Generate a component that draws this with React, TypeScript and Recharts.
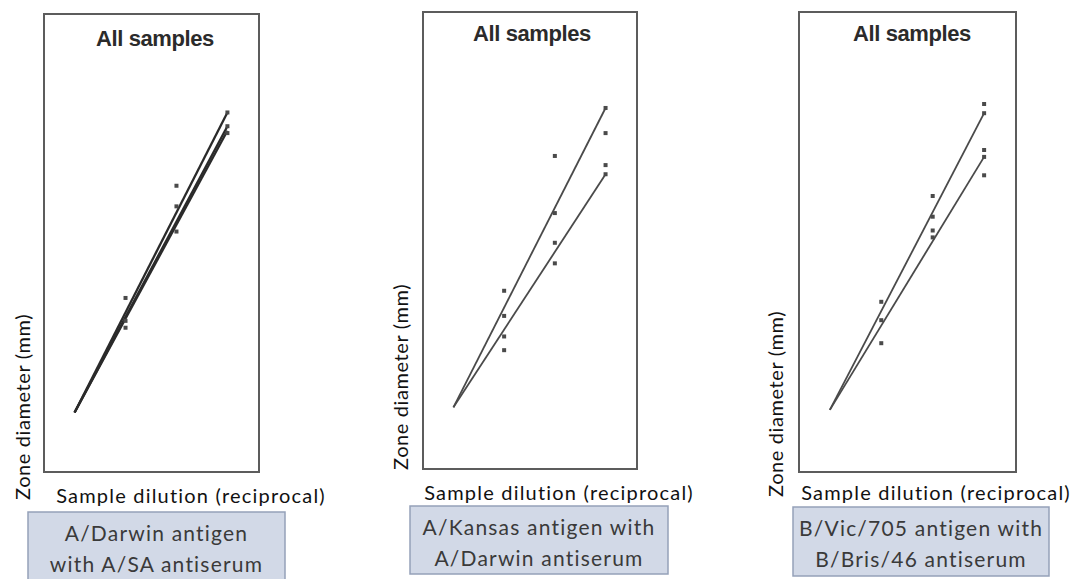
import React from 'react';
import { ScatterChart, Scatter, XAxis, YAxis, ReferenceArea } from 'recharts';

// x = log2 step of the reciprocal sample dilution, y = zone diameter (mm)
// fitted lines run from step 1 to step 4
const fitSteps = [1, 4];

// A/Darwin antigen with A/SA antiserum
const darwinSaFits = [
  [2.6, 15.7],
  [2.6, 15.1],
  [2.6, 14.9]
];
const darwinSaSteps = [2, 2, 2, 3, 3, 3, 4, 4, 4];
const darwinSaDiameters = [7.6, 6.6, 6.3, 12.5, 11.6, 10.5, 15.7, 15.1, 14.8];

// A/Kansas antigen with A/Darwin antiserum
const kansasFits = [
  [2.7, 15.8],
  [2.7, 12.9]
];
const kansasSteps = [2, 2, 2, 2, 3, 3, 3, 3, 4, 4, 4, 4];
const kansasDiameters = [7.8, 6.7, 5.8, 5.2, 13.7, 11.2, 9.9, 9.0, 15.8, 14.7, 13.3, 12.9];

// B/Vic/705 antigen with B/Bris/46 antiserum
const vicFits = [
  [2.7, 15.6],
  [2.7, 13.7]
];
const vicSteps = [2, 2, 2, 3, 3, 3, 3, 4, 4, 4, 4, 4];
const vicDiameters = [7.4, 6.6, 5.6, 12.0, 11.1, 10.5, 10.2, 16.0, 15.6, 14.0, 13.7, 12.9];

const panelTitle = 'All samples';
const xLabel = 'Sample dilution (reciprocal)';
const yLabel = 'Zone diameter (mm)';
const captions = [
  ['A/Darwin antigen', 'with A/SA antiserum'],
  ['A/Kansas antigen with', 'A/Darwin antiserum'],
  ['B/Vic/705 antigen with', 'B/Bris/46 antiserum']
];

const xDomain = [0.4, 4.62];
const yDomain = [0, 20];

const toPoints = (steps: number[], values: number[]) =>
  steps.map((step, i) => ({ step, mm: values[i] }));

const panels = [
  {
    fits: darwinSaFits,
    points: toPoints(darwinSaSteps, darwinSaDiameters),
    frame: { x: 44, y: 14, w: 215, h: 458 },
    title: { x: 155, y: 38 },
    yLab: { x: 22, y: 500 },
    xLab: { x: 191, y: 495 },
    box: { x: 28, y: 512, w: 257, h: 72 },
    lineColor: '#2a2a2a',
    lineWidth: 2.3
  },
  {
    fits: kansasFits,
    points: toPoints(kansasSteps, kansasDiameters),
    frame: { x: 423, y: 12, w: 214, h: 457 },
    title: { x: 532, y: 33 },
    yLab: { x: 400, y: 470 },
    xLab: { x: 559, y: 492 },
    box: { x: 410, y: 506, w: 258, h: 68 },
    lineColor: '#4a4a4a',
    lineWidth: 1.8
  },
  {
    fits: vicFits,
    points: toPoints(vicSteps, vicDiameters),
    frame: { x: 799, y: 12, w: 217, h: 460 },
    title: { x: 912, y: 33 },
    yLab: { x: 775, y: 497 },
    xLab: { x: 936, y: 492 },
    box: { x: 793, y: 507, w: 256, h: 69 },
    lineColor: '#4a4a4a',
    lineWidth: 1.8
  }
];

const SampleDot = (props: any) => {
  const { cx, cy } = props;
  return <rect x={cx - 2} y={cy - 2} width={4} height={4} fill="#4a4a4a" />;
};

const labelFont = 'Lato, "Open Sans", sans-serif';

const App = () => {
  return (
    <div style={{ position: 'absolute', left: 0, top: 0, width: 1072, height: 579, background: '#fff', overflow: 'hidden' }}>
      {panels.map((p, idx) => (
        <div key={idx} style={{ position: 'absolute', left: p.frame.x - 2, top: p.frame.y - 2 }}>
          <ScatterChart
            width={p.frame.w + 4}
            height={p.frame.h + 4}
            margin={{ top: 2, right: 2, bottom: 2, left: 2 }}
          >
            <XAxis type="number" dataKey="step" domain={xDomain} hide />
            <YAxis type="number" dataKey="mm" domain={yDomain} hide />
            <ReferenceArea
              x1={xDomain[0]}
              x2={xDomain[1]}
              y1={yDomain[0]}
              y2={yDomain[1]}
              fill="#fff"
              fillOpacity={0}
              stroke="#5c5c5c"
              strokeWidth={2}
            />
            {p.fits.map((fit, i) => (
              <Scatter
                key={i}
                data={toPoints(fitSteps, fit)}
                line={{ stroke: p.lineColor, strokeWidth: p.lineWidth }}
                shape={() => null}
                isAnimationActive={false}
              />
            ))}
            <Scatter data={p.points} shape={SampleDot} isAnimationActive={false} />
          </ScatterChart>
        </div>
      ))}

      <svg width={1072} height={579} style={{ position: 'absolute', left: 0, top: 0, pointerEvents: 'none' }}>
        {panels.map((p, idx) => (
          <g key={idx}>
            <text
              x={p.title.x}
              y={p.title.y}
              textAnchor="middle"
              dominantBaseline="central"
              fontFamily='"Liberation Sans", Arial, sans-serif'
              fontWeight="bold"
              fontSize={22}
              fill="#2b2b2b"
              letterSpacing={-0.4}
            >
              {panelTitle}
            </text>
            <text
              x={p.yLab.x}
              y={p.yLab.y}
              transform={`rotate(-90 ${p.yLab.x} ${p.yLab.y})`}
              textAnchor="start"
              dominantBaseline="central"
              fontFamily={labelFont}
              fontSize={20}
              fill="#111"
              letterSpacing={0.6}
            >
              {yLabel}
            </text>
            <text
              x={p.xLab.x}
              y={p.xLab.y}
              textAnchor="middle"
              dominantBaseline="central"
              fontFamily={labelFont}
              fontSize={20}
              fill="#111"
              letterSpacing={1.2}
            >
              {xLabel}
            </text>
            <rect
              x={p.box.x}
              y={p.box.y}
              width={p.box.w}
              height={p.box.h}
              fill="#d2d9e7"
              stroke="#95a1b9"
              strokeWidth={1.5}
            />
            {captions[idx].map((line, j) => (
              <text
                key={j}
                x={p.box.x + p.box.w / 2}
                y={p.box.y + 20 + j * 31}
                textAnchor="middle"
                dominantBaseline="central"
                fontFamily={labelFont}
                fontSize={21}
                fill="#3a3a3a"
                letterSpacing={1.2}
              >
                {line}
              </text>
            ))}
          </g>
        ))}
      </svg>
    </div>
  );
};

export default App;
